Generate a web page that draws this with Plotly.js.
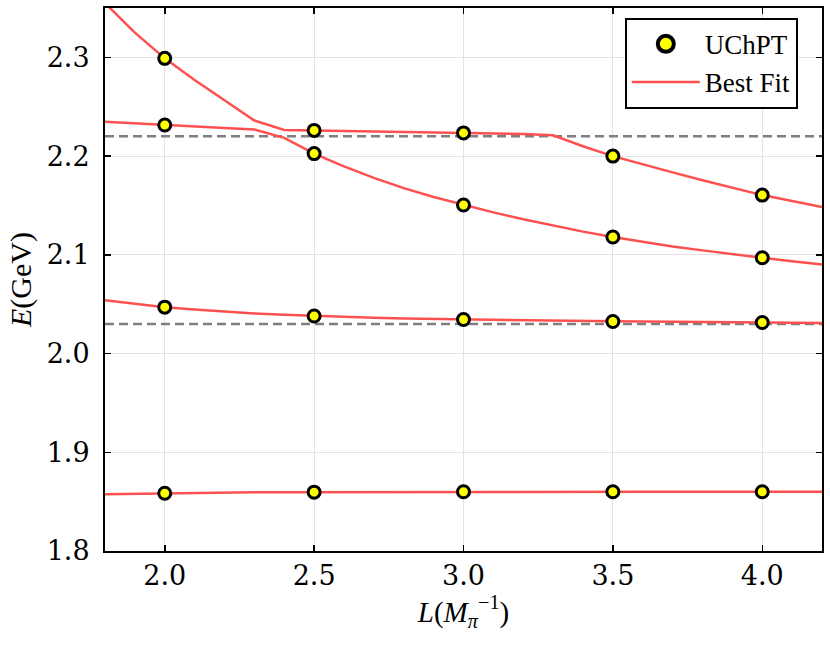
<!DOCTYPE html>
<html>
<head>
<meta charset="utf-8">
<script src="https://cdn.plot.ly/plotly-3.0.1.min.js"></script>
<style>
  html, body { margin: 0; padding: 0; background: #fff; }
  #chart { width: 830px; height: 646px; }
</style>
</head>
<body>
<div id="chart"></div>
<script>
// Energy levels vs box size: UChPT points and the fitted curves.

// fit curves, sampled every 0.1 in L
const fitL = [1.8, 1.9, 2.0, 2.1, 2.2, 2.3, 2.4, 2.5, 2.6, 2.7, 2.8, 2.9, 3.0,
              3.1, 3.2, 3.3, 3.4, 3.5, 3.6, 3.7, 3.8, 3.9, 4.0, 4.1, 4.2];
const fitLevel1 = [1.8575, 1.8580, 1.8585, 1.8590, 1.8592, 1.8594, 1.8595, 1.8596, 1.8597,
                   1.8598, 1.8598, 1.8599, 1.8600, 1.8600, 1.8600, 1.8600, 1.8600, 1.8600,
                   1.8600, 1.8600, 1.8600, 1.8600, 1.8600, 1.8600, 1.8600];
const fitLevel2 = [2.0540, 2.0502, 2.0470, 2.0445, 2.0424, 2.0406, 2.0392, 2.0380, 2.0370,
                   2.0362, 2.0355, 2.0350, 2.0345, 2.0340, 2.0337, 2.0333, 2.0330, 2.0327,
                   2.0324, 2.0321, 2.0319, 2.0317, 2.0315, 2.0312, 2.0310];
const fitLevel3 = [2.2347, 2.2330, 2.2315, 2.2300, 2.2285, 2.2270, 2.2185, 2.2025, 2.1895,
                   2.1780, 2.1675, 2.1585, 2.1505, 2.1430, 2.1360, 2.1295, 2.1235, 2.1180,
                   2.1130, 2.1085, 2.1045, 2.1005, 2.0970, 2.0935, 2.0903];
const fitLevel4 = [2.3550, 2.3250, 2.2990, 2.2770, 2.2565, 2.2360, 2.2265, 2.2260, 2.2255,
                   2.2250, 2.2245, 2.2240, 2.2235, 2.2230, 2.2225, 2.2210, 2.2100, 2.2000,
                   2.1915, 2.1835, 2.1755, 2.1680, 2.1605, 2.1545, 2.1485];

// UChPT points
const ptL = [2.0, 2.5, 3.0, 3.5, 4.0];
const ptLevel1 = [1.8585, 1.8596, 1.8600, 1.8600, 1.8600];
const ptLevel2 = [2.0470, 2.0380, 2.0345, 2.0325, 2.0315];
const ptLevel3 = [2.2315, 2.2025, 2.1505, 2.1180, 2.0970];
const ptLevel4 = [2.2990, 2.2260, 2.2235, 2.2000, 2.1605];

// two-particle thresholds (dashed)
const thresholds = [2.0298, 2.2202];

const xRange = [1.8, 4.2];
const yRange = [1.8, 2.35];
const xTicks = [2.0, 2.5, 3.0, 3.5, 4.0];
const yTicks = [1.8, 1.9, 2.0, 2.1, 2.2, 2.3];

const SERIF = '"Liberation Serif", "DejaVu Serif", serif';
const TICKFONT = '"DejaVu Serif", serif';
const RED = '#ff5050';

const traces = [];

thresholds.forEach((t) => {
  traces.push({
    type: 'scatter', mode: 'lines',
    x: xRange, y: [t, t],
    line: { color: '#7f7f7f', width: 2.5, dash: '9px,5px' },
    showlegend: false, hoverinfo: 'skip',
  });
});

[fitLevel1, fitLevel2, fitLevel3, fitLevel4].forEach((curve, i) => {
  traces.push({
    type: 'scatter', mode: 'lines',
    name: 'Best Fit',
    x: fitL, y: curve,
    line: { color: RED, width: 2.5 },
    legendgroup: 'fit', legendrank: 2,
    showlegend: i === 0,
  });
});

const allLevels = [ptLevel1, ptLevel2, ptLevel3, ptLevel4];
traces.push({
  type: 'scatter', mode: 'markers',
  name: 'UChPT',
  x: allLevels.flatMap(() => ptL),
  y: allLevels.flat(),
  marker: { color: '#ffff00', size: 12, line: { color: '#000', width: 3 } },
  showlegend: false,
});
// legend key only: bigger marker, like the reference legend
traces.push({
  type: 'scatter', mode: 'markers',
  name: 'UChPT',
  x: [null], y: [null],
  marker: { color: '#ffff00', size: 18, line: { color: '#000', width: 4 } },
  legendrank: 1,
});

const axisCommon = {
  showline: true, linecolor: '#000', linewidth: 2, mirror: 'ticks',
  ticks: 'inside', ticklen: 6, tickwidth: 1.5, tickcolor: '#000',
  showgrid: true, gridcolor: '#e3e3e3', gridwidth: 1,
  zeroline: false, tickformat: '.1f',
};

const layout = {
  width: 830, height: 646,
  margin: { l: 105, r: 8, t: 8, b: 95 },
  paper_bgcolor: '#fff', plot_bgcolor: '#fff',
  font: { family: SERIF, color: '#000' },
  xaxis: Object.assign({}, axisCommon, {
    range: xRange, tickvals: xTicks,
    tickfont: { family: TICKFONT, size: 27, color: '#000' },
    title: { text: '<i>L</i>(<i>M</i><sub><i>π</i></sub><sup>−1</sup>)', font: { family: SERIF, size: 29 }, standoff: 2 },
  }),
  yaxis: Object.assign({}, axisCommon, {
    range: yRange, tickvals: yTicks, ticklabelstandoff: 8,
    tickfont: { family: TICKFONT, size: 27, color: '#000' },
    title: { text: '<i>E</i>(GeV)', font: { family: SERIF, size: 30 }, standoff: 6 },
  }),
  legend: {
    x: 0.725, y: 0.982, xanchor: 'left', yanchor: 'top',
    bgcolor: '#fff', bordercolor: '#000', borderwidth: 2,
    font: { family: SERIF, size: 27, color: '#000' },
    itemwidth: 68, tracegroupgap: 0,
  },
};

Plotly.newPlot('chart', traces, layout, { displayModeBar: false, staticPlot: true });
</script>
</body>
</html>
